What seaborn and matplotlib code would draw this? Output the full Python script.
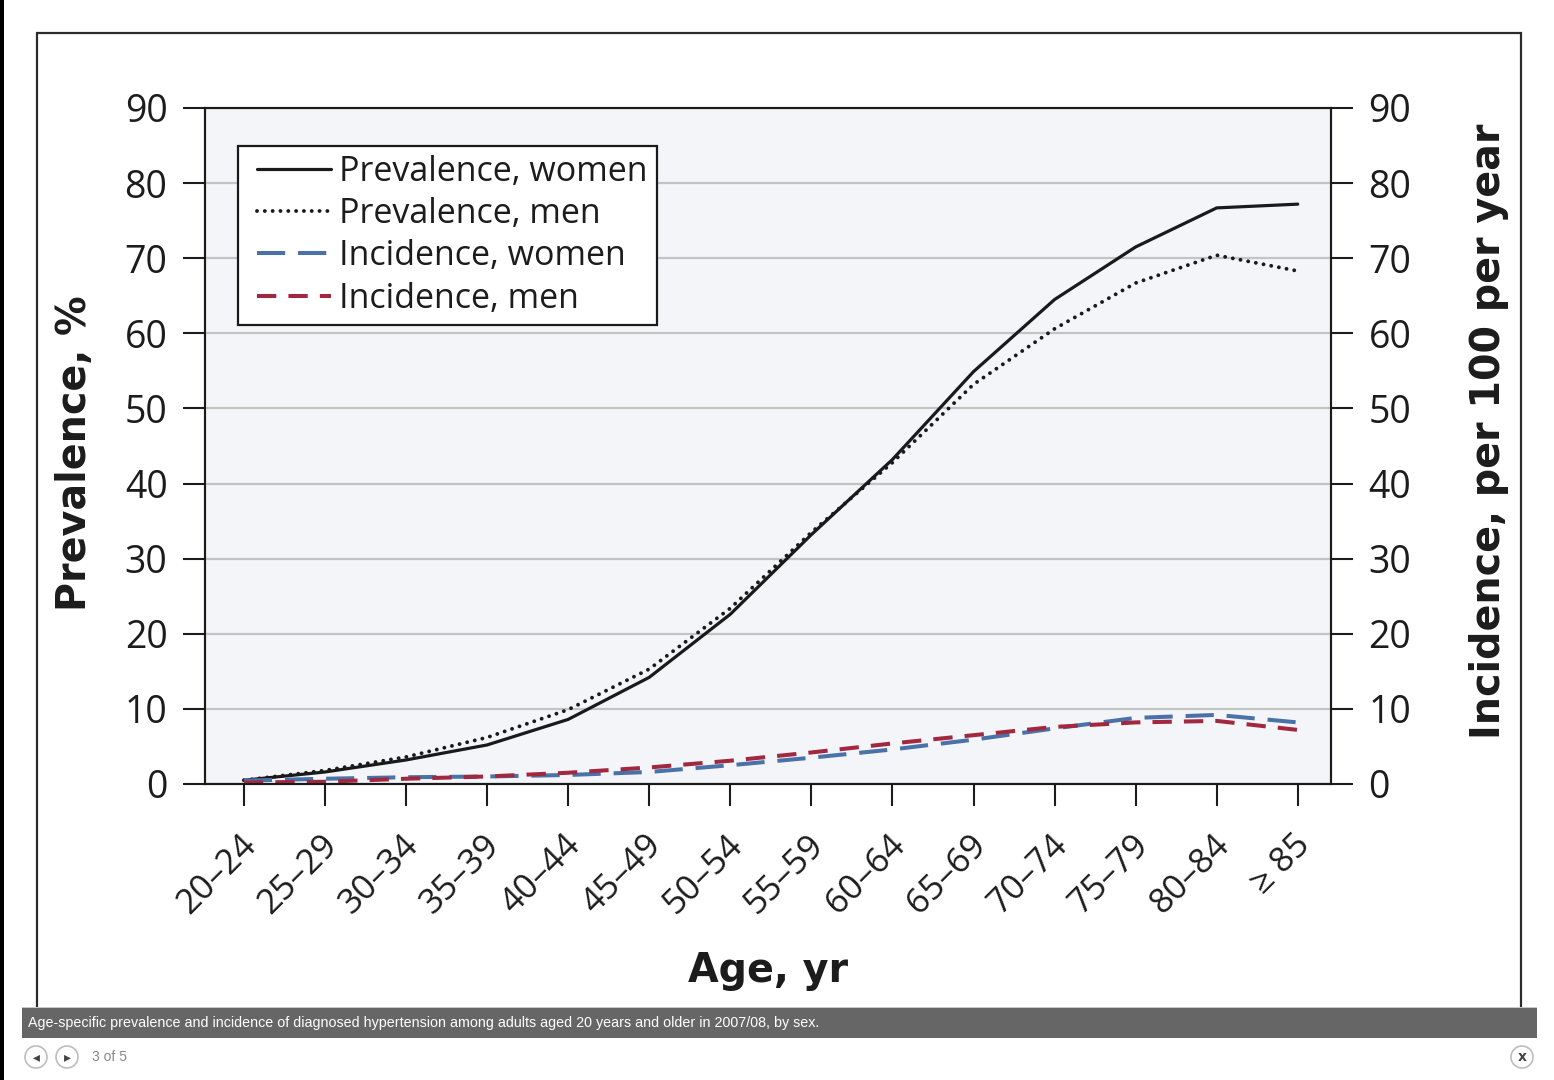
import numpy as np
import pandas as pd
import matplotlib
matplotlib.use("Agg")
import matplotlib.pyplot as plt
import matplotlib.patches as mpatches
from matplotlib.lines import Line2D
from matplotlib.legend_handler import HandlerLine2D
from matplotlib.transforms import ScaledTranslation
import seaborn as sns

# Data
ages = ['20–24', '25–29', '30–34', '35–39', '40–44', '45–49', '50–54',
        '55–59', '60–64', '65–69', '70–74', '75–79', '80–84', '≥ 85']
prev_women = [0.5, 1.6, 3.2, 5.2, 8.6, 14.2, 22.6, 33.2, 43.2, 54.9, 64.5, 71.5, 76.7, 77.2]
prev_men = [0.5, 1.8, 3.6, 6.2, 9.9, 15.3, 23.4, 33.5, 42.8, 53.2, 60.6, 66.7, 70.4, 68.3]
inc_women = [0.45, 0.7, 0.9, 1.0, 1.2, 1.6, 2.5, 3.5, 4.6, 5.9, 7.4, 8.8, 9.2, 8.2]
inc_men = [0.2, 0.3, 0.7, 1.0, 1.5, 2.2, 3.1, 4.2, 5.4, 6.5, 7.6, 8.2, 8.4, 7.2]

df = pd.DataFrame({
    'pos': np.arange(len(ages)),
    'age': ages,
    'prev_women': prev_women,
    'prev_men': prev_men,
    'inc_women': inc_women,
    'inc_men': inc_men,
})

sns.set_style("white")
plt.rcParams['font.family'] = ['Open Sans', 'DejaVu Sans']

W, H = 1554, 1080
fig = plt.figure(figsize=(W / 100, H / 100), dpi=100)
fig.patch.set_facecolor('white')


def fx(x):
    return x / W


def fy(y):
    return 1 - y / H


# outer frame around the chart
fig.add_artist(mpatches.Rectangle((0, 0), fx(4), 1, transform=fig.transFigure,
                                  fc='black', ec='none'))
fig.add_artist(mpatches.Rectangle((fx(37), fy(1022)), fx(1521 - 37), (1022 - 33) / H,
                                  transform=fig.transFigure, fill=False,
                                  ec='#2b2b2b', lw=1.6))

ax = fig.add_axes([fx(205), fy(784), fx(1331 - 205), (784 - 108) / H])
ax.set_facecolor('#f4f5f9')
ax2 = ax.twinx()

text_col = '#1c1c1c'
blue = '#4a72a8'
red = '#a2283f'

sns.lineplot(data=df, x='pos', y='prev_women', ax=ax, color='#1a1a1a',
             linewidth=2.3, legend=False)
h_pw = ax.lines[-1]
sns.lineplot(data=df, x='pos', y='prev_men', ax=ax, color='#1a1a1a',
             linewidth=2.8, legend=False)
h_pm = ax.lines[-1]
h_pm.set_linestyle((0, (0.01, 2.0)))
h_pm.set_dash_capstyle('round')

sns.lineplot(data=df, x='pos', y='inc_women', ax=ax2, color=blue,
             linewidth=2.9, legend=False)
h_iw = ax2.lines[-1]
h_iw.set_linestyle((0, (7.0, 3.2)))
sns.lineplot(data=df, x='pos', y='inc_men', ax=ax2, color=red,
             linewidth=2.9, legend=False)
h_im = ax2.lines[-1]
h_im.set_linestyle((0, (4.8, 3.0)))

for a in (ax, ax2):
    a.set_ylim(0, 90)
    a.set_xlim(-0.48, 13.41)
    a.set_yticks(np.arange(0, 91, 10))
    for s in a.spines.values():
        s.set_color('#1a1a1a')
        s.set_linewidth(1.5)

ax.yaxis.grid(True, color='#c4c4c4', linewidth=1.6)
ax.xaxis.grid(False)
ax.set_axisbelow(True)

ax.tick_params(axis='x', bottom=True, length=16, width=1.5, pad=29,
               labelsize=25, colors=text_col)
ax.tick_params(axis='y', left=True, length=16, width=1.5, pad=11,
               labelsize=27, colors=text_col)
ax2.tick_params(axis='y', right=True, length=16, width=1.5, pad=11,
                labelsize=27, colors=text_col)

ax.set_xticks(df['pos'])
ax.set_xticklabels(df['age'], rotation=45, ha='right', va='baseline',
                   rotation_mode='anchor')
shift = ScaledTranslation(0.14, 0, fig.dpi_scale_trans)
for lab in ax.get_xticklabels():
    lab.set_transform(lab.get_transform() + shift)

lab_font = dict(family='DejaVu Sans', weight='bold', size=28.5, color=text_col)
ax.set_xlabel('Age, yr', **lab_font)
ax.xaxis.set_label_coords(0.5, -0.247)
ax.set_ylabel('Prevalence, %', **lab_font)
ax.yaxis.set_label_coords(-0.098, 0.49)
ax2.set_ylabel('Incidence, per 100 per year', **lab_font)
ax2.yaxis.set_label_coords(1.123, 0.522)

leg = ax2.legend([h_pw, h_pm, h_iw, h_im],
                 ['Prevalence, women', 'Prevalence, men',
                  'Incidence, women', 'Incidence, men'],
                 loc='upper left', bbox_to_anchor=(0.0293, 0.944),
                 borderaxespad=0, fontsize=24.5, frameon=True, fancybox=False,
                 edgecolor='#1a1a1a', facecolor='white', framealpha=1,
                 handlelength=2.47, handletextpad=0.23, borderpad=0.27,
                 labelspacing=0.24,
                 handler_map={Line2D: HandlerLine2D(xpad=0.3)})
leg.get_frame().set_linewidth(1.6)
for t in leg.get_texts():
    t.set_color(text_col)

# caption bar and viewer controls
fig.add_artist(mpatches.Rectangle((fx(22), fy(1038)), fx(1537 - 22), 31 / H,
                                  transform=fig.transFigure, fc='#666666',
                                  ec='none'))
fig.add_artist(mpatches.Rectangle((fx(22), fy(1008)), fx(1537 - 22), 1.5 / H,
                                  transform=fig.transFigure, fc='#c8c8c8',
                                  ec='none'))
fig.text(fx(28), fy(1023), 'Age-specific prevalence and incidence of diagnosed '
         'hypertension among adults aged 20 years and older in 2007/08, by sex.',
         family='Liberation Sans', size=10.3, color='white', va='center', ha='left')

for cx, glyph in ((36, '◂'), (67, '▸'), (1522, 'x')):
    fig.add_artist(mpatches.Circle((cx / 100, (H - 1057) / 100), 0.11,
                                   transform=fig.dpi_scale_trans, fc='white',
                                   ec='#bdbdbd', lw=1.2))
    fig.text(fx(cx), fy(1057), glyph, family='DejaVu Sans', size=10,
             weight='bold', color='#444444', ha='center', va='center')
fig.text(fx(92), fy(1057), '3 of 5', family='Liberation Sans', size=10,
         color='#888888', ha='left', va='center')

fig.savefig('out.png', dpi=100)
